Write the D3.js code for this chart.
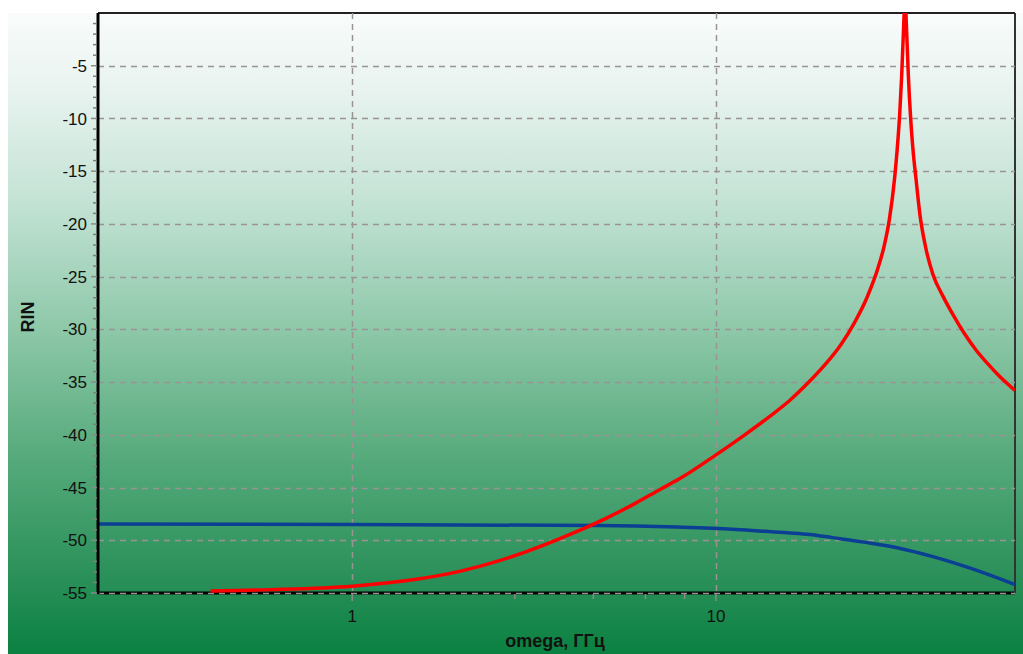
<!DOCTYPE html>
<html>
<head>
<meta charset="utf-8">
<script src="https://cdn.jsdelivr.net/npm/d3@7"></script>
<style>
  body { margin: 0; background: #fff; }
  svg { display: block; font-family: "Liberation Sans", Arial, sans-serif; }
</style>
</head>
<body>
<script>
// data (omega in GHz, RIN)
const redFreq = [0.408, 0.6, 1, 1.5, 2, 2.5, 3, 4, 5, 6, 7, 8, 10, 12, 14, 16, 18, 20, 22, 24, 26, 28, 29, 30, 31, 31.5, 32, 32.4, 32.8, 33.1, 33.4, 33.8, 34.3, 34.8, 35.5, 36.4, 37.6, 39.5, 42, 45, 48, 52, 56, 60, 66.4];
const redRin = [-54.8, -54.68, -54.35, -53.7, -52.9, -52.0, -51.1, -49.4, -47.9, -46.5, -45.2, -44.1, -41.9, -40.0, -38.3, -36.7, -35.0, -33.3, -31.5, -29.4, -27.0, -24.0, -22.1, -19.5, -15.6, -12.9, -9.6, -6.0, -1.4, 1.4, -1.3, -5.9, -10.0, -12.9, -15.8, -19.2, -22.0, -24.8, -26.8, -28.7, -30.3, -32.0, -33.3, -34.4, -35.8];

const blueFreq = [0.2, 1.0, 4.8, 7.8, 11.1, 13.6, 16.0, 18.1, 20.9, 25.8, 31.9, 39.5, 48.6, 56.7, 66.4];
const blueRin = [-48.45, -48.5, -48.6, -48.75, -48.95, -49.15, -49.3, -49.45, -49.75, -50.2, -50.75, -51.55, -52.5, -53.3, -54.2];

const yTicks = [-5, -10, -15, -20, -25, -30, -35, -40, -45, -50, -55];
const yMinor = d3.range(-54, 0).filter((v) => v % 5 !== 0);
const xTicks = [1, 10];
const xMinor = [2.8, 4.6, 6.4, 8.2];

const xAxisLabel = "omega, ГГц";
const yAxisLabel = "RIN";

// size and plot area
const w = 1023;
const h = 654;
const pLeft = 98;
const pRight = 1015;
const pTop = 13;
const pBottom = 593;

const xScale = d3.scaleLog().domain([0.2, 66.4]).range([pLeft, pRight]);
const yScale = d3.scaleLinear().domain([-55, 0]).range([pBottom, pTop]);

const svg = d3.select("body").append("svg").attr("width", w).attr("height", h);

// background gradient
const defs = svg.append("defs");
const grad = defs
  .append("linearGradient")
  .attr("id", "bg")
  .attr("x1", 0)
  .attr("y1", 0)
  .attr("x2", 0)
  .attr("y2", 1);
[
  [0, "#f9fcfb"],
  [0.12, "#e8f3ef"],
  [0.3, "#c2e2d4"],
  [0.5, "#8cc7a7"],
  [0.7, "#54a97a"],
  [0.88, "#2a9059"],
  [1, "#0a8141"],
].forEach(([o, c]) => grad.append("stop").attr("offset", o).attr("stop-color", c));

defs
  .append("clipPath")
  .attr("id", "chart-area")
  .append("rect")
  .attr("x", pLeft)
  .attr("y", pTop)
  .attr("width", pRight - pLeft)
  .attr("height", pBottom - pTop);

svg
  .append("rect")
  .attr("x", 8)
  .attr("y", 13)
  .attr("width", w - 8)
  .attr("height", h - 13)
  .attr("fill", "url(#bg)");

// axis lines (black) under the grid
svg.append("line").attr("x1", pLeft).attr("x2", pRight).attr("y1", pBottom).attr("y2", pBottom)
  .attr("stroke", "#000").attr("stroke-width", 3);
svg.append("line").attr("x1", pLeft).attr("x2", pRight).attr("y1", pTop).attr("y2", pTop)
  .attr("stroke", "#222").attr("stroke-width", 2);
svg.append("line").attr("x1", pRight).attr("x2", pRight).attr("y1", pTop).attr("y2", pBottom)
  .attr("stroke", "#333").attr("stroke-width", 2);

// grid lines
const grid = svg.append("g").attr("class", "grid");
grid
  .selectAll("line.h")
  .data(yTicks)
  .enter()
  .append("line")
  .attr("class", "h")
  .attr("x1", pLeft)
  .attr("x2", pRight)
  .attr("y1", (d) => Math.round(yScale(d)) + 0.5)
  .attr("y2", (d) => Math.round(yScale(d)) + 0.5);
grid
  .selectAll("line.v")
  .data(xTicks)
  .enter()
  .append("line")
  .attr("class", "v")
  .attr("x1", (d) => Math.round(xScale(d)) + 0.5)
  .attr("x2", (d) => Math.round(xScale(d)) + 0.5)
  .attr("y1", pTop)
  .attr("y2", pBottom);
grid
  .selectAll("line")
  .attr("stroke", "#9a9393")
  .attr("stroke-width", 1.5)
  .attr("stroke-dasharray", "6,5");

// curves
const line = d3
  .line()
  .x((d) => xScale(d[0]))
  .y((d) => yScale(d[1]))
  .curve(d3.curveMonotoneX);

const curves = svg.append("g").attr("clip-path", "url(#chart-area)");
curves
  .append("path")
  .attr("d", line(blueFreq.map((f, i) => [f, blueRin[i]])))
  .attr("fill", "none")
  .attr("stroke", "#0b3f94")
  .attr("stroke-width", 3.5);
curves
  .append("path")
  .attr("d", line(redFreq.map((f, i) => [f, redRin[i]])))
  .attr("fill", "none")
  .attr("stroke", "#ff0000")
  .attr("stroke-width", 3.5);

// left axis line on top
svg.append("line").attr("x1", pLeft).attr("x2", pLeft).attr("y1", pTop).attr("y2", pBottom + 1)
  .attr("stroke", "#000").attr("stroke-width", 3);

// y axis ticks + labels
const yAxis = svg.append("g").attr("transform", `translate(${pLeft - 1},0)`);
yAxis
  .selectAll("line.major")
  .data(yTicks)
  .enter()
  .append("line")
  .attr("class", "major")
  .attr("x1", -6)
  .attr("x2", 0)
  .attr("y1", (d) => yScale(d))
  .attr("y2", (d) => yScale(d))
  .attr("stroke", "#8a8a8a")
  .attr("stroke-width", 1.5);
yAxis
  .selectAll("line.minor")
  .data(yMinor)
  .enter()
  .append("line")
  .attr("class", "minor")
  .attr("x1", -4)
  .attr("x2", 0)
  .attr("y1", (d) => yScale(d))
  .attr("y2", (d) => yScale(d))
  .attr("stroke", "#808080")
  .attr("stroke-width", 1.5);
yAxis
  .selectAll("text")
  .data(yTicks)
  .enter()
  .append("text")
  .attr("x", -10)
  .attr("y", (d) => yScale(d))
  .attr("dy", "0.36em")
  .attr("text-anchor", "end")
  .attr("font-size", 17)
  .attr("fill", "#111")
  .text((d) => d);

// x axis ticks + labels
const xAxis = svg.append("g").attr("transform", `translate(0,${pBottom + 1})`);
xAxis
  .selectAll("line")
  .data(xTicks.concat(xMinor))
  .enter()
  .append("line")
  .attr("x1", (d) => xScale(d))
  .attr("x2", (d) => xScale(d))
  .attr("y1", 0)
  .attr("y2", (d) => (xTicks.includes(d) ? 7 : 5))
  .attr("stroke", "#8a8a8a")
  .attr("stroke-width", 1.5);
xAxis
  .selectAll("text")
  .data(xTicks)
  .enter()
  .append("text")
  .attr("x", (d) => xScale(d))
  .attr("y", 28)
  .attr("text-anchor", "middle")
  .attr("font-size", 17)
  .attr("fill", "#111")
  .text((d) => d);

// axis titles
svg
  .append("text")
  .attr("x", 555)
  .attr("y", 647)
  .attr("text-anchor", "middle")
  .attr("font-size", 18)
  .attr("font-weight", "bold")
  .attr("fill", "#111")
  .text(xAxisLabel);
svg
  .append("text")
  .attr("transform", "rotate(-90)")
  .attr("x", -317)
  .attr("y", 34)
  .attr("text-anchor", "middle")
  .attr("font-size", 18)
  .attr("font-weight", "bold")
  .attr("fill", "#111")
  .text(yAxisLabel);
</script>
</body>
</html>
